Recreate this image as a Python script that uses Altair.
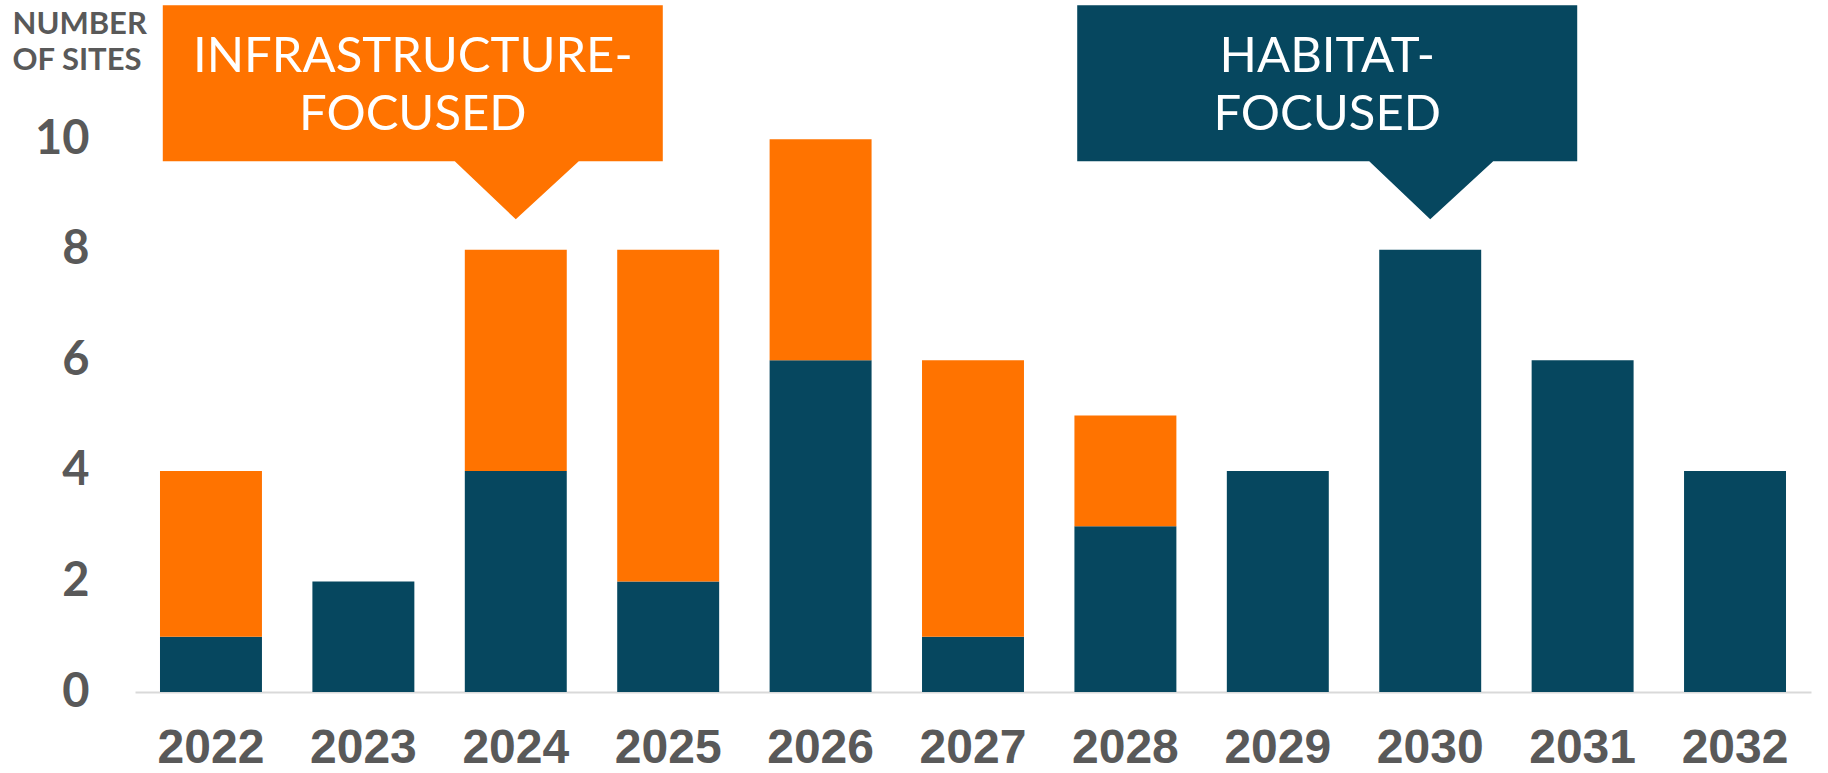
import altair as alt
import pandas as pd

years = ["2022", "2023", "2024", "2025", "2026", "2027", "2028", "2029", "2030", "2031", "2032"]
habitat = [1, 2, 4, 2, 6, 1, 3, 4, 8, 6, 4]
infrastructure = [3, 0, 4, 6, 4, 5, 2, 0, 0, 0, 0]

callout_years = ["2024", "2030"]
callout_labels = ["INFRASTRUCTURE-\nFOCUSED", "HABITAT-\nFOCUSED"]
callout_types = ["Infrastructure", "Habitat"]
callout_y = [8.55, 8.55]

TEAL = "#06475F"
ORANGE = "#FF7300"
GRAY = "#595959"

rows = []
for y, h, i in zip(years, habitat, infrastructure):
    rows.append({"year": y, "type": "Habitat", "value": h, "ord": 0})
    rows.append({"year": y, "type": "Infrastructure", "value": i, "ord": 1})
df = pd.DataFrame(rows)

cdf = pd.DataFrame({"year": callout_years, "label": callout_labels,
                    "type": callout_types, "y": callout_y})

xscale = alt.Scale(domain=years, paddingInner=0.331, paddingOuter=0.164)
yscale = alt.Scale(domain=[0, 12.5], nice=False)
cscale = alt.Scale(domain=["Habitat", "Infrastructure"], range=[TEAL, ORANGE])

bars = alt.Chart(df).mark_bar().encode(
    x=alt.X("year:N", scale=xscale, sort=years,
            axis=alt.Axis(title=None, labelAngle=0, ticks=False, tickSize=0,
                          labelPadding=32, labelFont="Liberation Sans",
                          labelFontSize=48, labelFontWeight="bold", labelColor=GRAY,
                          domainColor="#D9D9D9", domainWidth=2, grid=False)),
    y=alt.Y("value:Q", stack="zero", scale=yscale,
            axis=alt.Axis(values=[0, 2, 4, 6, 8, 10], format="d", ticks=False, tickSize=0,
                          domain=False, grid=False, labelPadding=46,
                          labelFont="Lato", labelFontSize=47, labelFontWeight="bold",
                          labelColor=GRAY,
                          title=["NUMBER", "OF SITES"], titleAngle=0,
                          titleX=-123, titleY=32, titleAlign="left",
                          titleBaseline="alphabetic", titleFont="Lato",
                          titleFontSize=31, titleFontWeight="bold",
                          titleColor=GRAY, titleLineHeight=36)),
    color=alt.Color("type:N", scale=cscale, legend=None),
    order=alt.Order("ord:Q"),
)

PATH = "M0,0 L-61,-58 L-353,-58 L-353,-214 L147,-214 L147,-58 L63,-58 Z"

callouts = alt.Chart(cdf).mark_point(shape=PATH, size=4, filled=True,
                                     opacity=1, strokeWidth=0).encode(
    x=alt.X("year:N", scale=xscale, sort=years),
    y=alt.Y("y:Q", scale=yscale),
    color=alt.Color("type:N", scale=cscale, legend=None),
)

texts = alt.Chart(cdf).mark_text(dx=-103, dy=-147, align="center",
                                 baseline="alphabetic", font="Lato",
                                 fontSize=49, color="white",
                                 lineBreak="\n", lineHeight=58).encode(
    x=alt.X("year:N", scale=xscale, sort=years),
    y=alt.Y("y:Q", scale=yscale),
    text="label:N",
)

chart = alt.layer(bars, callouts, texts).properties(
    width=1676, height=691,
    padding={"left": 135, "top": 1, "right": 17, "bottom": 81},
    autosize=alt.AutoSizeParams(type="none"),
    background="white",
).configure_view(stroke=None)

chart.save("out.html", embed_options={"renderer": "svg", "actions": False})
